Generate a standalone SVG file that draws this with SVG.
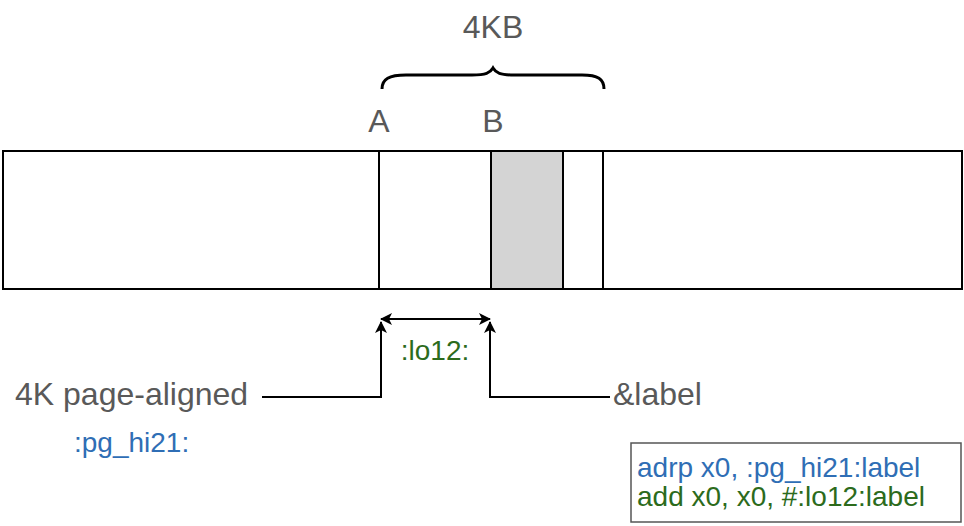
<svg xmlns="http://www.w3.org/2000/svg" width="964" height="526" viewBox="0 0 964 526">
<style>
text{font-family:"Liberation Sans",Arial,Helvetica,sans-serif}
.g{fill:#595959;font-size:32px}
.blue{fill:#2F6EB5;font-size:28px}
.green{fill:#2C6B1C;font-size:28px}
.ln{fill:none;stroke:#000;stroke-width:2}
</style>
<defs>
<marker id="ah" viewBox="0 0 12 12" refX="11" refY="6" markerWidth="12" markerHeight="12" markerUnits="userSpaceOnUse" orient="auto-start-reverse">
<path d="M0,0 L12,6 L0,12 L3,6 Z" fill="#000"/>
</marker>
</defs>
<g id="memory">
<rect x="3" y="151" width="959" height="138" fill="#fff" stroke="#000" stroke-width="2"/>
<rect x="491" y="151" width="72" height="138" fill="#d4d4d4" stroke="#000" stroke-width="2"/>
<line x1="379" y1="151" x2="379" y2="289" stroke="#000" stroke-width="2"/>
<line x1="603" y1="151" x2="603" y2="289" stroke="#000" stroke-width="2"/>
</g>
<g id="brace">
<path d="M382,89 C382,79 389,75 406,75 L472,75 C486,75 490,73 493,68 C496,73 500,75 514,75 L582,75 C598,75 604,79 604,89" fill="none" stroke="#000" stroke-width="3"/>
<text class="g" x="493" y="38" text-anchor="middle">4KB</text>
</g>
<g id="labelA"><text class="g" x="379" y="132" text-anchor="middle">A</text></g>
<g id="labelB"><text class="g" x="493" y="132" text-anchor="middle">B</text></g>
<g id="pageAligned"><text class="g" x="15" y="405">4K page-aligned</text></g>
<g id="pghi"><text class="blue" x="74" y="452">:pg_hi21:</text></g>
<g id="lo12"><text class="green" x="435" y="360" text-anchor="middle">:lo12:</text></g>
<g id="amplabel"><text class="g" x="613" y="405">&amp;label</text></g>
<g id="codebox">
<rect x="631" y="443" width="330" height="79" fill="#fff" stroke="#555" stroke-width="1.5"/>
<text class="blue" x="637" y="477">adrp x0, :pg_hi21:label</text>
<text class="green" x="637" y="506">add x0, x0, #:lo12:label</text>
</g>
<g id="connectors">
<line class="ln" x1="381" y1="319" x2="490" y2="319" marker-start="url(#ah)" marker-end="url(#ah)"/>
<polyline class="ln" points="262,397 381,397 381,322" marker-end="url(#ah)"/>
<polyline class="ln" points="610,397 490,397 490,322" marker-end="url(#ah)"/>
</g>
</svg>
